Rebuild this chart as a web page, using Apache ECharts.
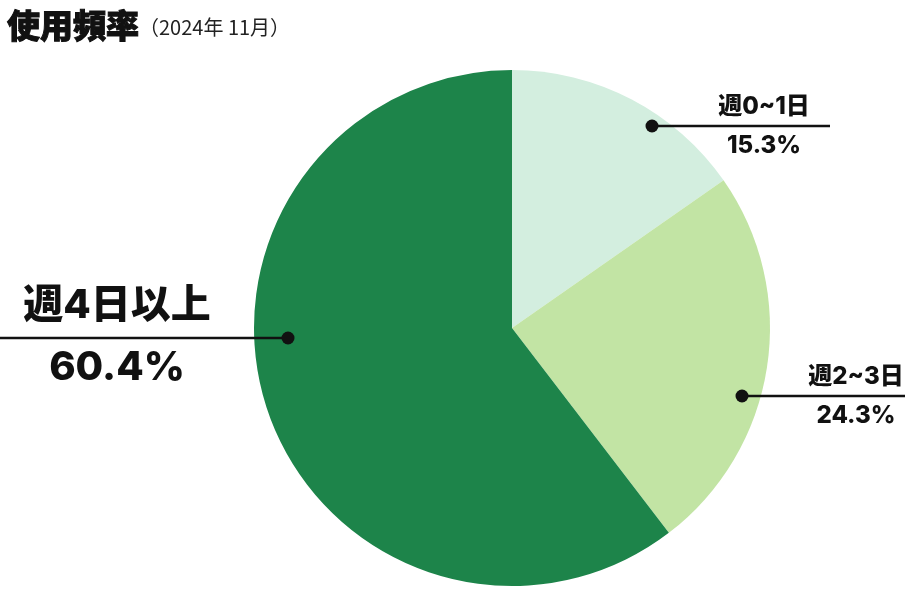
<!DOCTYPE html>
<html>
<head>
<meta charset="utf-8">
<script src="https://cdn.jsdelivr.net/npm/echarts@6/dist/echarts.min.js"></script>
<style>html,body{margin:0;padding:0;background:#fff}#c{width:920px;height:600px}</style>
</head>
<body>
<div id="c"></div>
<script>
const categories = ['週0~1日', '週2~3日', '週4日以上'];
const values = [15.3, 24.3, 60.4];
const colors = ['#d3eedf', '#c2e4a4', '#1d844a'];

// label layout (anchor dot, line end, label centre) per slice
const layout = [
  { dot: [652, 126], end: [830, 126], label: [764, 126], size: 'small' },
  { dot: [742, 396], end: [905, 396], label: [856, 396], size: 'small' },
  { dot: [288, 338], end: [0, 338], label: [117, 337], size: 'big' }
];

const chart = echarts.init(document.getElementById('c'));
const FONT = 'Inter, "Noto Sans CJK JP", sans-serif';

const guideElems = [];
layout.forEach(L => {
  guideElems.push({ type: 'line', z: 100, zlevel: 1, shape: { x1: L.dot[0], y1: L.dot[1], x2: L.end[0], y2: L.end[1] }, style: { stroke: '#111', lineWidth: 2.6 } });
  guideElems.push({ type: 'circle', z: 101, zlevel: 1, shape: { cx: L.dot[0], cy: L.dot[1], r: 6.5 }, style: { fill: '#111' } });
});

chart.setOption({
  animation: false,
  title: {
    left: 2, top: -1,
    text: '{a|使用頻率}{b|（2024年 11月）}',
    textStyle: {
      rich: {
        a: { fontFamily: '"Noto Sans CJK TC", sans-serif', fontWeight: 900, fontSize: 33, color: '#111', lineHeight: 42, textBorderColor: '#111', textBorderWidth: 1 },
        b: { fontFamily: '"Noto Sans CJK TC", sans-serif', fontWeight: 400, fontSize: 20, color: '#222', lineHeight: 42, padding: [4, 0, 0, 0] }
      }
    }
  },
  series: [{
    type: 'pie',
    center: [512, 328],
    radius: [0, 258],
    startAngle: 90,
    clockwise: true,
    avoidLabelOverlap: false,
    emphasis: { disabled: true },
    data: categories.map((n, i) => ({ name: n, value: values[i], itemStyle: { color: colors[i] } })),
    label: {
      show: true,
      position: 'outside',
      align: 'center',
      verticalAlign: 'middle',
      formatter: p => {
        const big = layout[p.dataIndex].size === 'big';
        return big ? `{bn|${p.name}}\n{bv|${p.value}%}` : `{sn|${p.name}}\n{sv|${p.value}%}`;
      },
      rich: {
        sn: { fontFamily: FONT, fontWeight: 800, fontSize: 24, color: '#111', lineHeight: 39, align: 'center' },
        sv: { fontFamily: FONT, fontWeight: 800, fontSize: 24, color: '#111', lineHeight: 39, align: 'center' },
        bn: { fontFamily: FONT, fontWeight: 800, fontSize: 40, color: '#111', lineHeight: 62, align: 'center' },
        bv: { fontFamily: FONT, fontWeight: 800, fontSize: 40, color: '#111', lineHeight: 62, align: 'center' }
      }
    },
    labelLine: { show: false },
    labelLayout: function (params) {
      const L = layout[params.dataIndex];
      return { x: L.label[0], y: L.label[1], align: 'center', verticalAlign: 'middle' };
    }
  }],
  graphic: guideElems
});
</script>
</body>
</html>
